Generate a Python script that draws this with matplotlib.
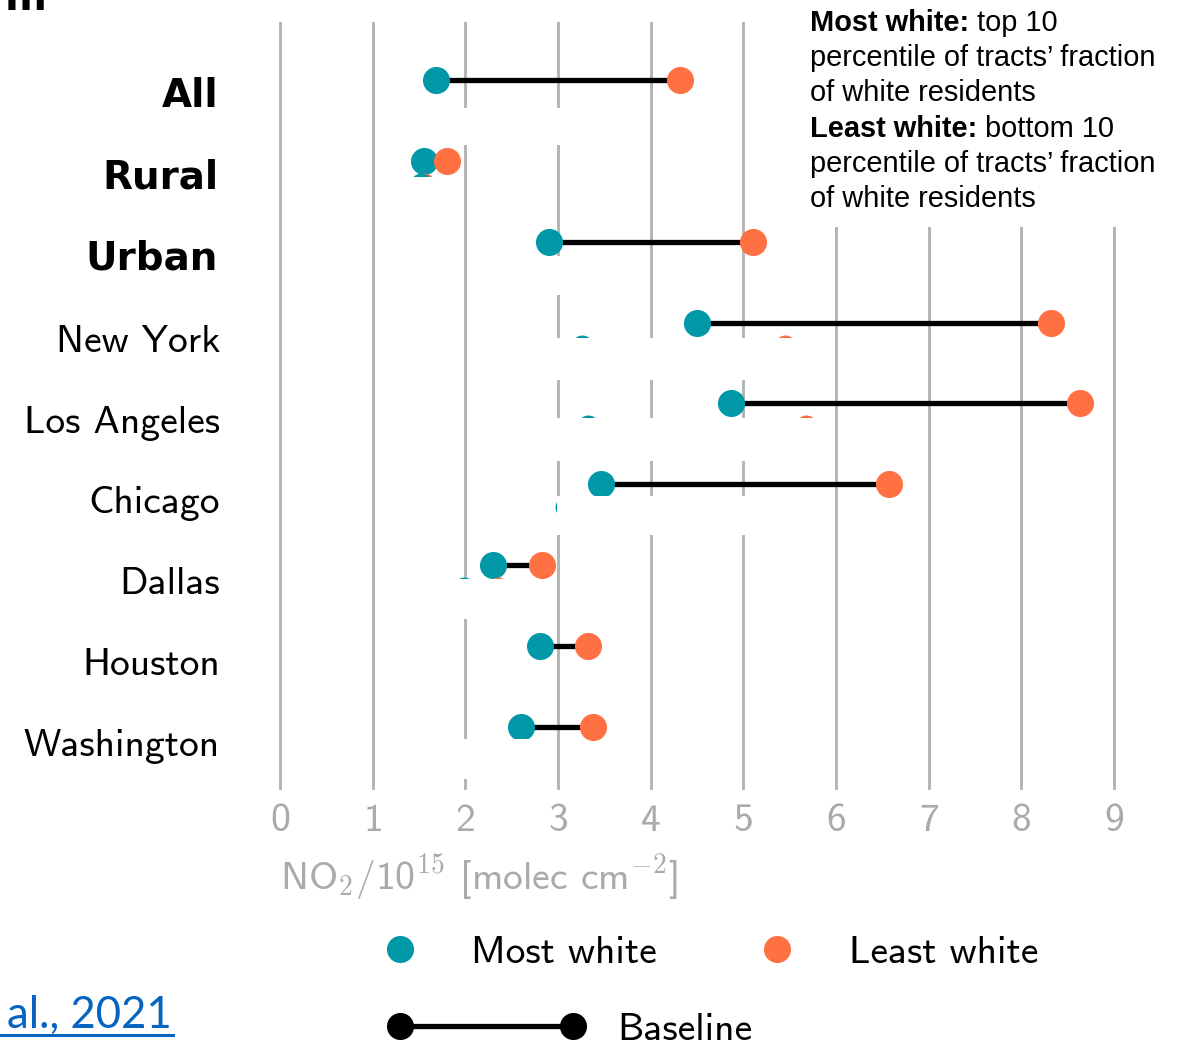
import numpy as np
import matplotlib
matplotlib.use('Agg')
import matplotlib.pyplot as plt
import matplotlib.transforms as mtransforms
from matplotlib.lines import Line2D
from matplotlib.patches import Rectangle

plt.rcParams['font.family'] = ['cmss10', 'DejaVu Sans']
plt.rcParams['mathtext.fontset'] = 'cm'
plt.rcParams['axes.formatter.use_mathtext'] = True

# NO2 per group (x 1e15 molec cm-2)
rows = ['All', 'Rural', 'Urban', 'New York', 'Los Angeles', 'Chicago',
        'Dallas', 'Houston', 'Washington']
bold_rows = ['All', 'Rural', 'Urban']
most_white = [1.69, 1.56, 2.90, 4.50, 4.87, 3.46, 2.30, 2.81, 2.60]
least_white = [4.32, 1.80, 5.10, 8.32, 8.63, 6.57, 2.83, 3.32, 3.38]

# half-hidden dots of the layer underneath
ghost_rows = ['Rural', 'New York', 'Los Angeles', 'Chicago', 'Dallas']
ghost_most = [1.52, 3.26, 3.32, 3.09, 1.99]
ghost_least = [1.55, 5.45, 5.68, 5.40, 2.35]

# white strips that cover that layer (x range, offset below the row)
mask_rows = ['All', 'Rural', 'Urban', 'New York', 'Los Angeles', 'Chicago',
             'Dallas', 'Washington']
mask_x0 = [1.45, 1.20, 2.55, 2.985, 2.985, 2.985, 1.30, 1.30]
mask_x1 = [3.55, 1.95, 3.45, 5.90, 5.90, 5.90, 2.80, 2.80]
mask_top = [0.346, 0.198, 0.173, 0.185, 0.185, 0.148, 0.173, 0.148]
mask_bot = [0.804, 0.680, 0.655, 0.705, 0.705, 0.630, 0.667, 0.643]

teal = '#0097A7'
orange = '#FF7043'
grey = '#aaaaaa'

W, H = 1190, 1045
fig = plt.figure(figsize=(W / 100, H / 100), dpi=100)
ax = fig.add_axes([252 / W, (H - 790) / H, 890 / W, 768 / H])

ypos = {r: i for i, r in enumerate(rows)}
y = np.arange(len(rows))

ax.hlines(y, most_white, least_white, color='black', lw=3.8, zorder=2)
ax.plot(most_white, y, 'o', ms=19.5, color=teal, mec='none', zorder=3)
ax.plot(least_white, y, 'o', ms=19.5, color=orange, mec='none', zorder=3)

gy = np.array([ypos[r] for r in ghost_rows]) + 0.284
ax.plot(ghost_least, gy, 'o', ms=15.8, color=orange, mec='none', zorder=3.4)
ax.plot(ghost_most, gy, 'o', ms=15.8, color=teal, mec='none', zorder=3.5)

for r, x0, x1, t, b in zip(mask_rows, mask_x0, mask_x1, mask_top, mask_bot):
    ax.add_patch(Rectangle((x0, ypos[r] + t), x1 - x0, b - t,
                           facecolor='white', edgecolor='none', zorder=4))

ax.set_xlim(-0.3, 9.3)
ax.set_ylim(8.779, -0.717)
ax.set_xticks(range(10))
ax.set_yticks([])
ax.grid(axis='x', color='#b4b4b4', lw=2.1)
ax.set_axisbelow(True)
ax.tick_params(axis='x', length=0, pad=10, labelsize=28.5, labelcolor=grey)
for s in ax.spines.values():
    s.set_visible(False)

lab_tr = mtransforms.blended_transform_factory(ax.transAxes, ax.transData)
for r in rows:
    if r in bold_rows:
        ax.text(-0.038, ypos[r] + 0.34, r, transform=lab_tr, ha='right',
                va='baseline', fontsize=28, fontweight='bold',
                family='DejaVu Sans')
    else:
        ax.text(-0.036, ypos[r] + 0.36, r, transform=lab_tr, ha='right',
                va='baseline', fontsize=28.5)

xl_tr = mtransforms.blended_transform_factory(ax.transData, ax.transAxes)
ax.text(0, -0.113, r'NO$_\mathsf{2}$/10$^\mathsf{15}$ [molec cm$^\mathsf{-2}$]',
        transform=xl_tr, ha='left', va='center', fontsize=28.5, color=grey)

# note box, top right
fig.add_artist(Rectangle((790 / W, 1 - 227 / H), 400 / W, 227 / H,
                         transform=fig.transFigure, facecolor='white',
                         edgecolor='none', zorder=5))
note_lines = [('Most white:', ' top 10'),
              ('', 'percentile of tracts\u2019 fraction'),
              ('', 'of white residents'),
              ('Least white:', ' bottom 10'),
              ('', 'percentile of tracts\u2019 fraction'),
              ('', 'of white residents')]
fig.canvas.draw()
renderer = fig.canvas.get_renderer()
for i, (bold, rest) in enumerate(note_lines):
    ty = 1 - (31 + 35.2 * i) / H
    tx = 810 / W
    if bold:
        tb = fig.text(tx, ty, bold, fontsize=20.9, fontweight='bold',
                      family='Liberation Sans', va='baseline', zorder=6)
        tx = tb.get_window_extent(renderer).x1 / W
    fig.text(tx, ty, rest, fontsize=20.9, family='Liberation Sans',
             va='baseline', zorder=6)

# legend
fs = 28.5
h1 = [Line2D([], [], ls='none', marker='o', ms=19.5, color=teal, mec='none'),
      Line2D([], [], ls='none', marker='o', ms=19.5, color=orange, mec='none')]
leg1 = fig.legend(h1, ['Most white', 'Least white'], loc='center left',
                  bbox_to_anchor=(386.3 / W, 1 - 953 / H), ncol=2,
                  frameon=False, borderpad=0, borderaxespad=0,
                  handlelength=0.68, handletextpad=1.47, columnspacing=2.7,
                  prop={'family': 'cmss10', 'size': fs})
h2 = [Line2D([], [], color='black', lw=3.8, marker='o', ms=19.5, mec='none')]
leg2 = fig.legend(h2, ['Baseline'], loc='center left',
                  bbox_to_anchor=(388 / W, 1 - 1030 / H), numpoints=2,
                  frameon=False, borderpad=0, borderaxespad=0,
                  handlelength=4.97, handletextpad=0.83,
                  prop={'family': 'cmss10', 'size': fs})

# citation link and cut-off heading
fig.text(172 / W, 1 - 1028 / H, 'al., 2021', ha='right', va='baseline',
         fontsize=31.5, family='Lato', color='#0563C1')
fig.add_artist(Line2D([0, 173 / W], [1 - 1035 / H] * 2,
                      transform=fig.transFigure, color='#0563C1', lw=2.2))
fig.text(5 / W, 1 - 10 / H, 'm', fontsize=29, fontweight='bold',
         family='DejaVu Sans', va='baseline')

fig.savefig('out.png', dpi=100)
